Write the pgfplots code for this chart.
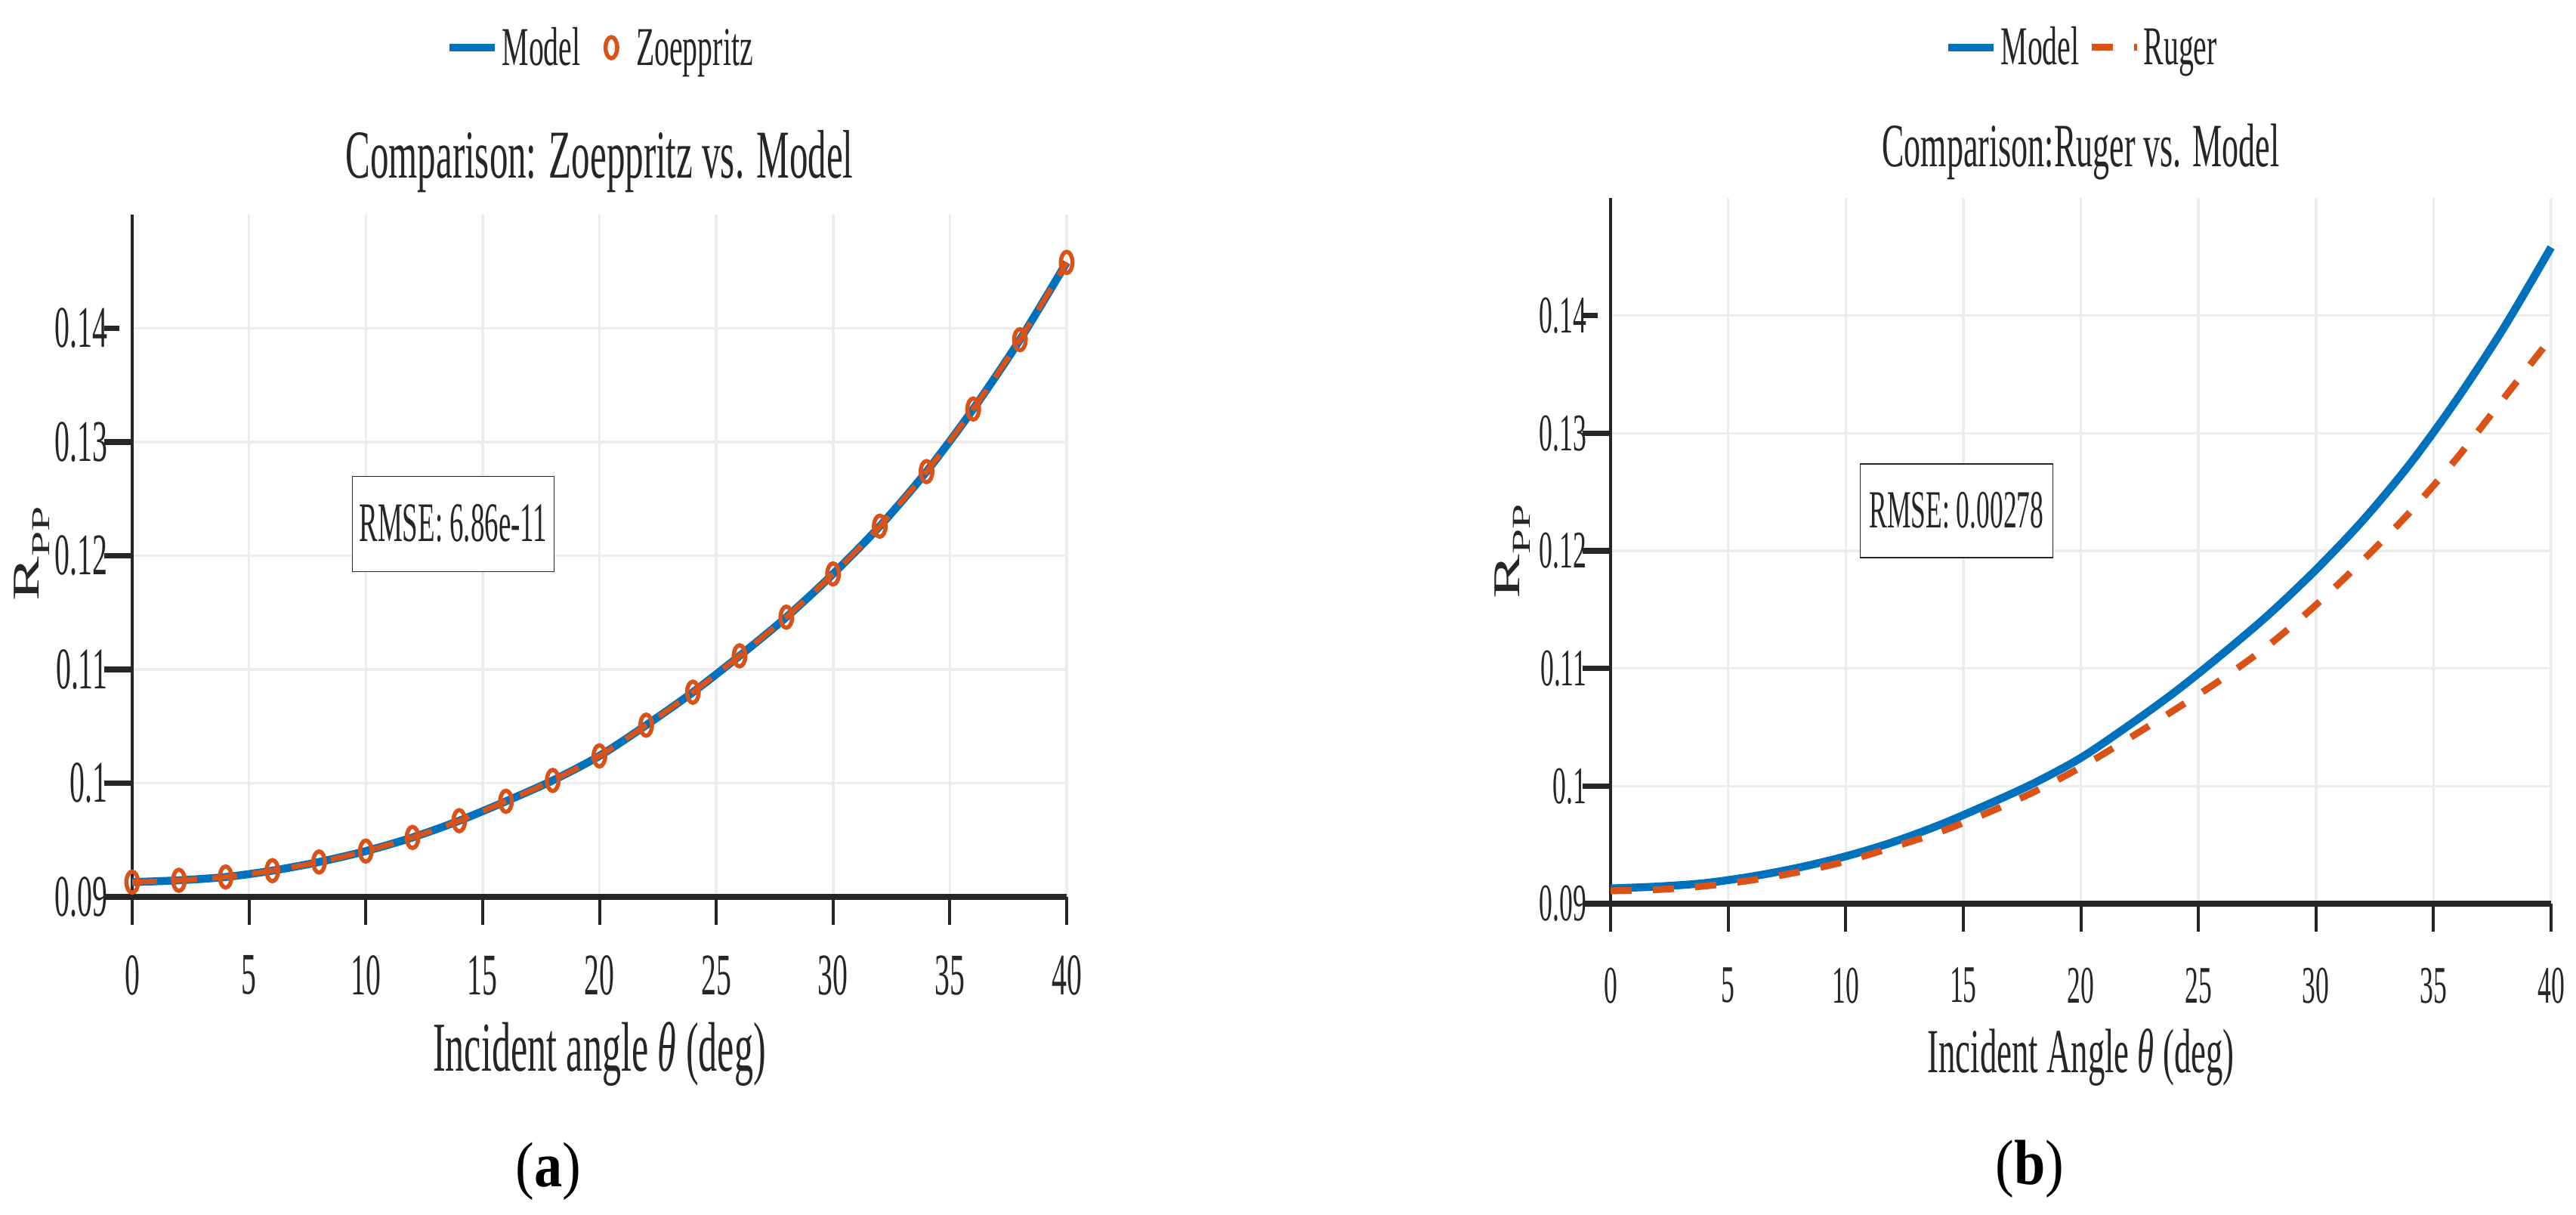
\documentclass[border=0pt]{standalone}
\usepackage{fontspec}
\usepackage{graphicx}
\usepackage{xcolor}
\usepackage{pgfplots}
\pgfplotsset{compat=1.18}
\usepackage{pgfplotstable}

% condensed serif faces
\setmainfont{Liberation Serif}[FakeStretch=0.54]
\newfontfamily\tickfont{Liberation Serif}[FakeStretch=0.51]
\newfontfamily\boxfont{Liberation Serif}[FakeStretch=0.50]
\newfontfamily\legfont{Liberation Serif}[FakeStretch=0.55]
\newfontfamily\subfont{Liberation Serif}[FakeStretch=0.88]
\newfontfamily\plainfont{Liberation Serif}

\definecolor{mblue}{HTML}{0072BD}
\definecolor{morange}{HTML}{D95319}
\definecolor{axgray}{HTML}{262626}
\definecolor{gridgray}{HTML}{EDEDED}

\newcommand{\fs}[1]{\fontsize{#1}{#1}\selectfont}
\newcommand{\rpp}{{\plainfont R\raisebox{-0.28em}{\fontsize{0.68em}{0.68em}\selectfont PP}}}

% R_PP of the model (used in both panels)
\pgfplotstableread{
theta  rpp
0   0.09130
2   0.09146
4   0.09175
6   0.09231
8   0.09307
10  0.09403
12  0.09523
14  0.09670
16  0.09841
18  0.10024
20  0.10240
22  0.10510
24  0.10800
26  0.11120
28  0.11460
30  0.11840
32  0.12260
34  0.12740
36  0.13290
38  0.13900
40  0.14580
}\modeldata

% exact Zoeppritz solution
\pgfplotstableread{
theta  rpp
0   0.09130
2   0.09146
4   0.09175
6   0.09231
8   0.09307
10  0.09403
12  0.09523
14  0.09670
16  0.09841
18  0.10024
20  0.10240
22  0.10510
24  0.10800
26  0.11120
28  0.11460
30  0.11840
32  0.12260
34  0.12740
36  0.13290
38  0.13900
40  0.14580
}\zoepdata

% Ruger approximation
\pgfplotstableread{
theta  rpp
0   0.0911
2   0.0912
4   0.0915
6   0.0920
8   0.0927
10  0.0936
12  0.0948
14  0.0961
16  0.0977
18  0.0995
20  0.1016
22  0.1040
24  0.1065
26  0.1091
28  0.1120
30  0.1154
32  0.1192
34  0.1233
36  0.1279
38  0.1330
40  0.1381
}\rugerdata

\pgfplotsset{
  rpp/.style={
    scale only axis,
    anchor=south west,
    xmin=0, xmax=40, ymin=0.09, ymax=0.15,
    xtick={0,5,...,40},
    ytick={0.09,0.1,0.11,0.12,0.13,0.14},
    axis x line*=bottom, axis y line*=left,
    tick align=outside,
    major tick length=0.37cm,
    grid=major,
    grid style={gridgray, line width=0.035cm},
    x axis line style={axgray, line width=0.075cm},
    y axis line style={axgray, line width=0.04cm},
    xtick style={axgray, line width=0.04cm},
    ytick style={axgray, line width=0.075cm, shorten >=0.17cm},
    clip=false,
    xticklabel={\pgfmathprintnumber[fixed,assume math mode=true]{\tick}},
    yticklabel={\pgfmathprintnumber[fixed,assume math mode=true]{\tick}},
    legend columns=-1,
    legend style={anchor=center, draw=none, fill=none, inner sep=0pt, outer sep=0pt,
      font=\legfont\fs{20.6pt}, text=axgray,
      nodes={inner xsep=0pt, inner ysep=0pt, text height=0.46cm, text depth=0pt}},
  },
}

\begin{document}
\begin{tikzpicture}
\path[use as bounding box] (0,0) rectangle (34.1cm,16.07cm);

% ---------------- (a) Zoeppritz vs. model ----------------
\begin{axis}[rpp,
  at={(1.75cm,4.20cm)}, width=12.37cm, height=9.03cm,
  xticklabel style={anchor=north, inner sep=0pt, yshift=-0.40cm, font=\tickfont\fs{22.2pt}, text=axgray},
  yticklabel style={anchor=east, inner sep=0pt, xshift=0.05cm, font=\tickfont\fs{22.2pt}, text=axgray},
  title={Comparison: Zoeppritz vs. Model},
  title style={at={(axis description cs:0.5,1.0299)}, anchor=base, inner sep=0pt, font=\fs{25.8pt}, text=axgray},
  xlabel={Incident angle \textit{θ} (deg)},
  xlabel style={at={(axis description cs:0.5,-0.2547)}, anchor=base, inner sep=0pt, font=\fs{26.4pt}, text=axgray},
  ylabel={\scalebox{1}[0.57]{\rpp}},
  ylabel style={at={(axis description cs:-0.1075,0.5028)}, anchor=center, inner sep=0pt, font=\fs{25pt}, text=axgray},
  legend style={at={(axis description cs:0.5,1.2447)},
    /tikz/column 1/.style={column sep=0.04cm},
    /tikz/column 2/.style={column sep=0.33cm},
    /tikz/column 3/.style={column sep=0.25cm}},
]
\addplot[mblue, line width=0.105cm, smooth] table[x=theta, y=rpp] {\modeldata};
\addlegendentry{Model}
\addplot[morange, line width=0.07cm, smooth, dash pattern=on 0.33cm off 0.2cm, forget plot]
  table[x=theta, y=rpp] {\zoepdata};
\addplot[morange, only marks, mark=o, mark size=0.14cm,
  mark options={solid, xscale=0.55, line width=0.055cm}]
  table[x=theta, y=rpp] {\zoepdata};
\addlegendentry{Zoeppritz}
\node[draw=axgray, line width=0.015cm, fill=white, minimum width=2.67cm, minimum height=1.26cm,
  inner sep=0pt, text height=0.47cm, text depth=0pt, font=\boxfont\fs{21pt}, text=axgray]
  at (axis cs:13.74,0.1228) {RMSE: 6.86e-11};
\node[font=\subfont\fs{24pt}] at (axis description cs:0.4454,-0.402) {(\textbf{a})};
\end{axis}

% ---------------- (b) Ruger vs. model ----------------
\begin{axis}[rpp,
  at={(21.32cm,4.11cm)}, width=12.45cm, height=9.34cm,
  xticklabel style={anchor=north, inner sep=0pt, yshift=-0.47cm, font=\tickfont\fs{19.9pt}, text=axgray},
  yticklabel style={anchor=east, inner sep=0pt, xshift=0.06cm, font=\tickfont\fs{19.9pt}, text=axgray},
  title={Comparison:Ruger vs. Model},
  title style={at={(axis description cs:0.5,1.0214)}, anchor=base, inner sep=0pt, font=\fs{23.2pt}, text=axgray},
  xlabel={Incident Angle \textit{θ} (deg)},
  xlabel style={at={(axis description cs:0.5,-0.2398)}, anchor=base, inner sep=0pt, font=\fs{23.6pt}, text=axgray},
  ylabel={\scalebox{1}[0.57]{\rpp}},
  ylabel style={at={(axis description cs:-0.1044,0.4989)}, anchor=center, inner sep=0pt, font=\fs{25pt}, text=axgray},
  legend style={at={(axis description cs:0.5,1.2131)},
    /tikz/every odd column/.append style={column sep=0.04cm},
    /tikz/every even column/.append style={column sep=0.12cm}},
]
\addplot[mblue, line width=0.105cm, smooth] table[x=theta, y=rpp] {\modeldata};
\addlegendentry{Model}
\addplot[morange, line width=0.09cm, smooth, dash pattern=on 0.28cm off 0.28cm]
  table[x=theta, y=rpp] {\rugerdata};
\addlegendentry{Ruger}
\node[draw=axgray, line width=0.015cm, fill=white, minimum width=2.55cm, minimum height=1.24cm,
  inner sep=0pt, text height=0.45cm, text depth=0pt, font=\boxfont\fs{20.2pt}, text=axgray]
  at (axis cs:14.71,0.1234) {RMSE: 0.00278};
\node[font=\subfont\fs{24pt}] at (axis description cs:0.4458,-0.3758) {(\textbf{b})};
\end{axis}
\end{tikzpicture}
\end{document}
